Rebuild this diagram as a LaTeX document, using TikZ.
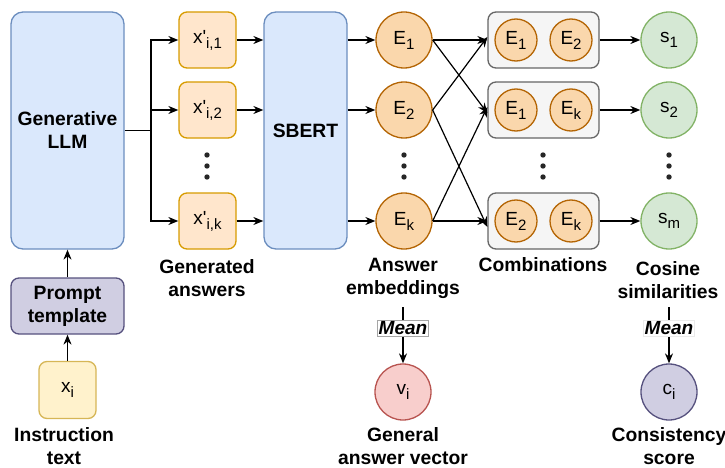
\documentclass[tikz,border=0pt]{standalone}
\usepackage{fontspec}
\setmainfont{Liberation Sans}
\usetikzlibrary{arrows.meta}
\definecolor{blueF}{HTML}{DAE8FC}\definecolor{blueS}{HTML}{6C8EBF}
\definecolor{orF}{HTML}{FFE6CC}\definecolor{orS}{HTML}{D79B00}
\definecolor{eF}{HTML}{FAD7AC}\definecolor{eS}{HTML}{B46504}
\definecolor{yF}{HTML}{FFF2CC}\definecolor{yS}{HTML}{D6B656}
\definecolor{pF}{HTML}{D0CEE2}\definecolor{pS}{HTML}{56517E}
\definecolor{gF}{HTML}{F5F5F5}\definecolor{gS}{HTML}{666666}
\definecolor{sF}{HTML}{D5E8D4}\definecolor{sS}{HTML}{82B366}
\definecolor{rF}{HTML}{F8CECC}\definecolor{rS}{HTML}{B85450}
\newcommand{\lsub}[1]{\raisebox{-5pt}{\fontsize{15}{15}\selectfont #1}}
\newcommand{\lblfont}{\fontsize{19.3}{23}\selectfont\bfseries}
\newcommand{\symfont}{\fontsize{19}{19}\selectfont}
\newcommand{\prm}{\textquotesingle}
\begin{document}
\begin{tikzpicture}[x=1pt,y=-1pt,
  every node/.style={inner sep=0pt},
  ln/.style={line width=1.3pt},
  arr/.style={line width=1.2pt,-{Stealth[length=10pt,width=8pt]}},
  bigbox/.style={draw=blueS,fill=blueF,line width=1.3pt,rounded corners=12pt,minimum height=237pt,align=center,font=\lblfont},
  xbox/.style={draw=orS,fill=orF,line width=1.3pt,rounded corners=8pt,minimum width=57pt,minimum height=56pt,font=\symfont},
  ecirc/.style={circle,draw=eS,fill=eF,line width=1.3pt,minimum size=56pt,font=\symfont},
  einner/.style={circle,draw=eS,fill=eF,line width=1.3pt,minimum size=42pt,font=\symfont},
  combbox/.style={draw=gS,fill=gF,line width=1.3pt,rounded corners=8pt,minimum width=111pt,minimum height=56pt},
  scirc/.style={circle,draw=sS,fill=sF,line width=1.3pt,minimum size=56pt,font=\symfont},
  lbl/.style={align=center,font=\lblfont},
  meanlbl/.style={fill=white,inner sep=1.5pt,font=\fontsize{19}{19}\selectfont\bfseries\itshape},
  dotf/.style={fill=black!85}
]
\useasboundingbox (0,0) rectangle (725,468);
% LLM
\node[bigbox,minimum width=113pt] (llm) at (67.5,130.5) {Generative\\LLM};
\node[draw=pS,fill=pF,line width=1.3pt,rounded corners=8pt,minimum width=113pt,minimum height=56pt,align=center,font=\lblfont] (prompt) at (67.5,306) {Prompt\\template};
\node[draw=yS,fill=yF,line width=1.3pt,rounded corners=8pt,minimum size=57pt,font=\symfont] (xi) at (67.5,390) {x\lsub{i}};
\node[lbl] (instr) at (64,446) {Instruction\\text};
\draw[arr] (xi.north) -- (prompt.south);
\draw[arr] (prompt.north) -- (llm.south);
% generated answers
\node[xbox] (x1) at (207.5,40) {x\prm\lsub{i,1}};
\node[xbox] (x2) at (207.5,110) {x\prm\lsub{i,2}};
\node[xbox] (xk) at (207.5,221) {x\prm\lsub{i,k}};
\node[lbl] (genlbl) at (207,278.5) {Generated\\answers};
\coordinate (br) at (151,130.5);
\draw[ln] (llm.east) -- (br);
\draw[arr] (br) |- (x1.west);
\draw[arr] (br) |- (x2.west);
\draw[arr] (br) |- (xk.west);
% SBERT
\node[bigbox,minimum width=83pt] (sbert) at (305.5,130.5) {SBERT};
\draw[arr] (x1.east) -- (x1.east -| sbert.west);
\draw[arr] (x2.east) -- (x2.east -| sbert.west);
\draw[arr] (xk.east) -- (xk.east -| sbert.west);
% embeddings
\node[ecirc] (e1) at (404,40) {E\lsub{1}};
\node[ecirc] (e2) at (404,110) {E\lsub{2}};
\node[ecirc] (ek) at (404,221) {E\lsub{k}};
\node[lbl] (anslbl) at (403,278.5) {Answer\\embeddings};
\draw[arr] (e1.west -| sbert.east) -- (e1.west);
\draw[arr] (e2.west -| sbert.east) -- (e2.west);
\draw[arr] (ek.west -| sbert.east) -- (ek.west);
% combinations
\node[combbox] (c1) at (543.5,40) {};
\node[combbox] (c2) at (543.5,110) {};
\node[combbox] (c3) at (543.5,221) {};
\node[einner] (c1a) at (516,40) {E\lsub{1}};
\node[einner] (c1b) at (571,40) {E\lsub{2}};
\node[einner] (c2a) at (516,110) {E\lsub{1}};
\node[einner] (c2b) at (571,110) {E\lsub{k}};
\node[einner] (c3a) at (516,221) {E\lsub{2}};
\node[einner] (c3b) at (571,221) {E\lsub{k}};
\node[lbl] (comblbl) at (543,265) {Combinations};
\draw[arr] (e1.east) -- (c1.west);
\draw[arr] (e1.east) -- ([yshift=-3pt]c2.west);
\draw[arr] (e2.east) -- ([yshift=3pt]c1.west);
\draw[arr] (e2.east) -- ([yshift=-6pt]c3.west);
\draw[arr] (ek.east) -- ([yshift=3pt]c2.west);
\draw[arr] (ek.east) -- (c3.west);
% similarities
\node[scirc] (s1) at (669,40) {s\lsub{1}};
\node[scirc] (s2) at (669,110) {s\lsub{2}};
\node[scirc] (sm) at (669,221) {s\lsub{m}};
\node[lbl] (coslbl) at (668,280) {Cosine\\similarities};
\draw[arr] (c1.east) -- (s1.west);
\draw[arr] (c2.east) -- (s2.west);
\draw[arr] (c3.east) -- (sm.west);
% dots
\foreach \xx in {207,404,543,669}{
  \foreach \yy in {155,166,177}{
    \fill[dotf] (\xx,\yy) circle (2.7pt);
  }
}
% means
\node[circle,draw=rS,fill=rF,line width=1.3pt,minimum size=56pt,font=\symfont] (v) at (403,392) {v\lsub{i}};
\node[circle,draw=pS,fill=pF,line width=1.3pt,minimum size=56pt,font=\symfont] (ci) at (669,392) {c\lsub{i}};
\coordinate (vs) at (403,307);
\coordinate (cs) at (669,307);
\draw[arr] (vs) -- node[meanlbl,draw=black!35,line width=0.6pt,pos=0.38] (meanv) {Mean} (v.north);
\draw[arr] (cs) -- node[meanlbl,draw=black!8,line width=0.6pt,pos=0.38] (meanc) {Mean} (ci.north);
\node[lbl] (genvlbl) at (403,446) {General\\answer vector};
\node[lbl] (conslbl) at (669,446) {Consistency\\score};
\end{tikzpicture}
\end{document}
